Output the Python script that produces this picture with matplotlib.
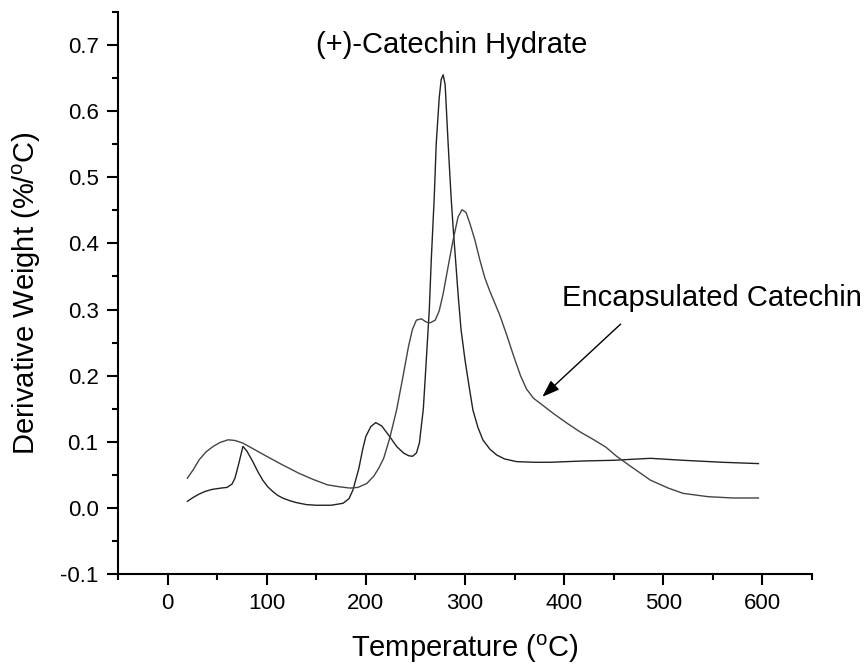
import matplotlib
matplotlib.use("Agg")
import matplotlib.pyplot as plt
from matplotlib.ticker import MultipleLocator, FormatStrFormatter

# --- DTG data (temperature in degC, derivative weight in %/degC) ---
T_hydrate = [20, 26, 32, 38, 45, 54, 60, 65, 68, 72, 76, 80, 86, 91, 96, 101, 106, 111, 116, 123, 130,
             140, 150, 165, 177, 183, 187, 193, 197, 200, 205, 210, 216, 224, 231, 238,
             243, 247, 251, 254, 258, 261, 264, 266, 269, 271, 274, 276, 278, 280, 283,
             286, 288, 291, 293, 296, 300, 304, 308, 313, 318, 325, 332, 340, 352, 370,
             386, 420, 450, 487, 520, 560, 596]
D_hydrate = [0.010, 0.016, 0.021, 0.025, 0.028, 0.030, 0.031, 0.036, 0.045, 0.068, 0.093, 0.086, 0.070, 0.055, 0.042, 0.032, 0.025, 0.019, 0.015, 0.011, 0.008,
             0.005, 0.004, 0.004, 0.007, 0.014, 0.027, 0.060, 0.090, 0.108, 0.123, 0.129, 0.124, 0.108, 0.093, 0.083,
             0.079, 0.078, 0.083, 0.098, 0.150, 0.224, 0.300, 0.375, 0.470, 0.551, 0.620, 0.648, 0.655, 0.640, 0.551,
             0.470, 0.425, 0.365, 0.324, 0.270, 0.224, 0.185, 0.148, 0.122, 0.103, 0.089, 0.080, 0.074, 0.070, 0.069,
             0.069, 0.071, 0.072, 0.075, 0.072, 0.069, 0.067]

T_encap = [20, 26, 32, 39, 46, 53, 61, 68, 76, 88, 100, 116, 133, 147, 161, 173, 184, 192,
           201, 208, 213, 218, 224, 231, 237, 243, 247, 251, 256, 261, 265, 270, 274,
           278, 283, 288, 293, 297, 301, 305, 310, 315, 320, 325, 330, 335, 342, 349, 356,
           362, 369, 376, 389, 403, 416, 430, 442, 453, 467, 487, 505, 520, 545, 570, 596]
D_encap = [0.045, 0.058, 0.073, 0.085, 0.093, 0.099, 0.103, 0.102, 0.098, 0.088, 0.078, 0.065, 0.052, 0.043, 0.035, 0.032, 0.030, 0.031,
           0.037, 0.048, 0.060, 0.075, 0.105, 0.148, 0.195, 0.244, 0.270, 0.284, 0.286, 0.281, 0.280, 0.284, 0.298,
           0.324, 0.365, 0.405, 0.440, 0.451, 0.447, 0.430, 0.405, 0.375, 0.348, 0.328, 0.310, 0.292, 0.262, 0.230, 0.200,
           0.180, 0.166, 0.158, 0.143, 0.128, 0.115, 0.103, 0.092, 0.078, 0.063, 0.042, 0.030, 0.022, 0.017, 0.015, 0.015]

X_TICKS = [0, 100, 200, 300, 400, 500, 600]
Y_TICKS = [-0.1, 0.0, 0.1, 0.2, 0.3, 0.4, 0.5, 0.6, 0.7]

plt.rcParams['font.family'] = ['Liberation Sans', 'DejaVu Sans']
plt.rcParams['axes.unicode_minus'] = False

fig = plt.figure(figsize=(8.65, 6.67), dpi=100)
ax = fig.add_axes([0.1364, 0.1394, 0.8023, 0.8426])

ax.plot(T_hydrate, D_hydrate, color='#222222', lw=1.0)
ax.plot(T_encap, D_encap, color='#444444', lw=1.0)

ax.set_xlim(-50, 650)
ax.set_ylim(-0.1, 0.75)

# only left and bottom axes, Origin-style ticks
for side in ('top', 'right'):
    ax.spines[side].set_visible(False)
for side in ('left', 'bottom'):
    ax.spines[side].set_linewidth(1.5)

ax.set_xticks(X_TICKS)
ax.set_yticks(Y_TICKS)
ax.xaxis.set_minor_locator(MultipleLocator(50))
ax.yaxis.set_minor_locator(MultipleLocator(0.05))
ax.yaxis.set_major_formatter(FormatStrFormatter('%.1f'))
ax.tick_params(which='major', direction='out', length=8, width=1.5, labelsize=16, pad=6)
ax.tick_params(which='minor', direction='out', length=4, width=1.5)

ax.set_xlabel('Temperature ($\\mathregular{^{o}}$C)', fontsize=21)
ax.set_ylabel('Derivative Weight (%/$\\mathregular{^{o}}$C)', fontsize=21)
ax.xaxis.set_label_coords(0.5, -0.104)
ax.yaxis.set_label_coords(-0.108, 0.5)

ax.text(150, 0.70, '(+)-Catechin Hydrate', fontsize=21, ha='left', va='center')
ax.text(398, 0.317, 'Encapsulated Catechin', fontsize=21, ha='left', va='center',
        clip_on=False)
ax.annotate('', xy=(378, 0.168), xytext=(457, 0.278),
            arrowprops=dict(arrowstyle='-|>,head_length=0.7,head_width=0.25',
                            color='black', lw=1.0, mutation_scale=15,
                            shrinkA=0, shrinkB=0))

fig.savefig('out.png', dpi=100)
